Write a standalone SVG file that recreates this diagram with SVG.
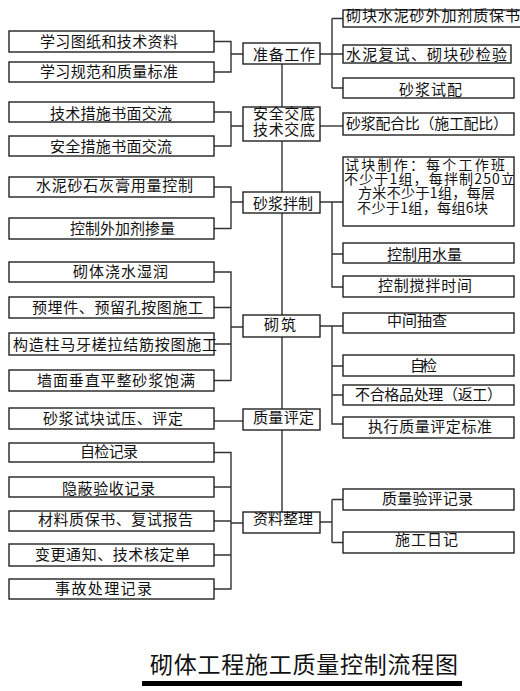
<svg xmlns="http://www.w3.org/2000/svg" width="520" height="691" viewBox="0 0 520 691">
<style>
  .bx { fill: #fff; stroke: #222; stroke-width: 1.4; }
  .ln { fill: none; stroke: #333; stroke-width: 1.4; }
  text { font-family: "Noto Sans CJK SC", "Noto Sans", sans-serif; font-size: 15px; fill: #111; }
  .title { font-size: 23px; }
  .sm { font-size: 14px; }
</style>
<rect width="520" height="691" fill="#fff"/>

<g id="connectors">
  <!-- center spine -->
  <path class="ln" d="M282 64 V512"/>
  <!-- left brackets -->
  <path class="ln" d="M214 41.5 H231 V72 H214 M231 54 H243"/>
  <path class="ln" d="M214 112 H231 V146 H214 M231 126 H243"/>
  <path class="ln" d="M214 187 H231 V228.5 H214 M231 202 H243"/>
  <path class="ln" d="M214 272 H231 V380.5 H214 M214 307.5 H231 M214 344 H231 M231 327 H243"/>
  <path class="ln" d="M214 421 H243"/>
  <path class="ln" d="M214 452.5 H231 V589 H214 M214 487 H231 M214 521 H231 M214 555 H231 M231 523 H243"/>
  <!-- right brackets -->
  <path class="ln" d="M320 54 H343 M332 18.5 V88 M332 18.5 H343 M332 88 H343"/>
  <path class="ln" d="M320 126 H343"/>
  <path class="ln" d="M320 202 H343 M332 202 V287 H343 M332 254 H343"/>
  <path class="ln" d="M320 326 H343 M332 326 V424 H343 M332 366 H343 M332 395 H343"/>
  <path class="ln" d="M320 522 H332 M332 499.5 V542.5 M332 499.5 H343 M332 542.5 H343"/>
  <!-- title underline -->
  <rect x="142" y="681" width="320" height="5" fill="#000"/>
</g>

<!-- left nodes -->
<g id="L1"><rect class="bx" x="9" y="31" width="205" height="21"/><text x="40" y="47" textLength="138" lengthAdjust="spacing">学习图纸和技术资料</text></g>
<g id="L2"><rect class="bx" x="9" y="62" width="205" height="20"/><text x="40" y="77" textLength="138" lengthAdjust="spacing">学习规范和质量标准</text></g>
<g id="L3"><rect class="bx" x="9" y="102" width="205" height="20"/><text x="50" y="119" textLength="122" lengthAdjust="spacing">技术措施书面交流</text></g>
<g id="L4"><rect class="bx" x="9" y="136" width="205" height="20"/><text x="50" y="152" textLength="122" lengthAdjust="spacing">安全措施书面交流</text></g>
<g id="L5"><rect class="bx" x="9" y="177" width="205" height="20"/><text x="36" y="191" textLength="157" lengthAdjust="spacing">水泥砂石灰膏用量控制</text></g>
<g id="L6"><rect class="bx" x="9" y="218" width="205" height="21"/><text x="70" y="234" textLength="105" lengthAdjust="spacing">控制外加剂掺量</text></g>
<g id="L7"><rect class="bx" x="9" y="262" width="205" height="20"/><text x="73" y="277" textLength="95" lengthAdjust="spacing">砌体浇水湿润</text></g>
<g id="L8"><rect class="bx" x="9" y="297" width="205" height="21"/><text x="32" y="313" textLength="171" lengthAdjust="spacing">预埋件、预留孔按图施工</text></g>
<g id="L9"><rect class="bx" x="9" y="333" width="205" height="22"/><text x="13" y="350" textLength="204" lengthAdjust="spacing">构造柱马牙槎拉结筋按图施工</text></g>
<g id="L10"><rect class="bx" x="9" y="370" width="205" height="21"/><text x="37" y="385.5" textLength="158" lengthAdjust="spacing">墙面垂直平整砂浆饱满</text></g>
<g id="L11"><rect class="bx" x="9" y="408" width="205" height="21"/><text x="43" y="424" textLength="140" lengthAdjust="spacing">砂浆试块试压、评定</text></g>
<g id="L12"><rect class="bx" x="9" y="443" width="205" height="19"/><text x="80" y="457" textLength="58" lengthAdjust="spacing">自检记录</text></g>
<g id="L13"><rect class="bx" x="9" y="477" width="205" height="20"/><text x="62" y="493.5" textLength="93" lengthAdjust="spacing">隐蔽验收记录</text></g>
<g id="L14"><rect class="bx" x="9" y="511" width="205" height="20"/><text x="38" y="525" textLength="155" lengthAdjust="spacing">材料质保书、复试报告</text></g>
<g id="L15"><rect class="bx" x="9" y="544" width="205" height="22"/><text x="35" y="559.5" textLength="155" lengthAdjust="spacing">变更通知、技术核定单</text></g>
<g id="L16"><rect class="bx" x="9" y="579" width="205" height="20"/><text x="55" y="594" textLength="97" lengthAdjust="spacing">事故处理记录</text></g>

<!-- center nodes -->
<g id="C1"><rect class="bx" x="243" y="43" width="77" height="21"/><text x="253" y="59.5" textLength="62" lengthAdjust="spacing">准备工作</text></g>
<g id="C2"><rect class="bx" x="243" y="107" width="77" height="34"/><text x="253" y="119" textLength="62" lengthAdjust="spacing">安全交底</text><text x="253" y="135" textLength="62" lengthAdjust="spacing">技术交底</text></g>
<g id="C3"><rect class="bx" x="243" y="192" width="77" height="21"/><text x="253" y="209" textLength="60" lengthAdjust="spacing">砂浆拌制</text></g>
<g id="C4"><rect class="bx" x="243" y="315" width="77" height="22"/><text x="264" y="329.5" textLength="32" lengthAdjust="spacing">砌筑</text></g>
<g id="C5"><rect class="bx" x="243" y="409" width="77" height="21"/><text x="253" y="422.5" textLength="61" lengthAdjust="spacing">质量评定</text></g>
<g id="C6"><rect class="bx" x="243" y="512" width="77" height="21"/><text x="253" y="524" textLength="60" lengthAdjust="spacing">资料整理</text></g>

<!-- right nodes -->
<g id="R1"><rect class="bx" x="343" y="10" width="190" height="17"/><text x="346" y="20.5" textLength="174" lengthAdjust="spacing">砌块水泥砂外加剂质保书</text></g>
<g id="R2"><rect class="bx" x="343" y="45" width="168" height="18"/><text x="346" y="60" textLength="161" lengthAdjust="spacing">水泥复试、砌块砂检验</text></g>
<g id="R3"><rect class="bx" x="343" y="78" width="171" height="20"/><text x="399" y="95" textLength="63" lengthAdjust="spacing">砂浆试配</text></g>
<g id="R4"><rect class="bx" x="343" y="113" width="171" height="22"/><text x="346" y="129" textLength="162" lengthAdjust="spacing">砂浆配合比（施工配比）</text></g>
<g id="R5"><rect class="bx" x="343" y="157" width="171" height="69"/>
  <text class="sm" x="345" y="169.5" textLength="160" lengthAdjust="spacing">试块制作：每个工作班</text>
  <text class="sm" x="344" y="183.5" textLength="171" lengthAdjust="spacing">不少于1组，每拌制250立</text>
  <text class="sm" x="358" y="198" textLength="137" lengthAdjust="spacing">方米不少于1组，每层</text>
  <text class="sm" x="357" y="212.5" textLength="131" lengthAdjust="spacing">不少于1组，每组6块</text>
</g>
<g id="R6"><rect class="bx" x="343" y="243" width="171" height="20"/><text x="387" y="260" textLength="75" lengthAdjust="spacing">控制用水量</text></g>
<g id="R7"><rect class="bx" x="343" y="276" width="171" height="21"/><text x="378" y="290.5" textLength="94" lengthAdjust="spacing">控制搅拌时间</text></g>
<g id="R8"><rect class="bx" x="343" y="313" width="171" height="20"/><text x="387" y="325.5" textLength="60" lengthAdjust="spacing">中间抽查</text></g>
<g id="R9"><rect class="bx" x="343" y="355" width="171" height="21"/><text x="410" y="370.5" textLength="27" lengthAdjust="spacing">自检</text></g>
<g id="R10"><rect class="bx" x="343" y="385" width="171" height="20"/><text x="355" y="399.5" textLength="147" lengthAdjust="spacing">不合格品处理（返工）</text></g>
<g id="R11"><rect class="bx" x="343" y="417" width="171" height="21"/><text x="368" y="431.5" textLength="124" lengthAdjust="spacing">执行质量评定标准</text></g>
<g id="R12"><rect class="bx" x="343" y="489" width="171" height="21"/><text x="382" y="504" textLength="91" lengthAdjust="spacing">质量验评记录</text></g>
<g id="R13"><rect class="bx" x="343" y="532" width="171" height="21"/><text x="395" y="545" textLength="63" lengthAdjust="spacing">施工日记</text></g>

<g id="title"><text class="title" x="150" y="673" textLength="308" lengthAdjust="spacing">砌体工程施工质量控制流程图</text></g>
</svg>
